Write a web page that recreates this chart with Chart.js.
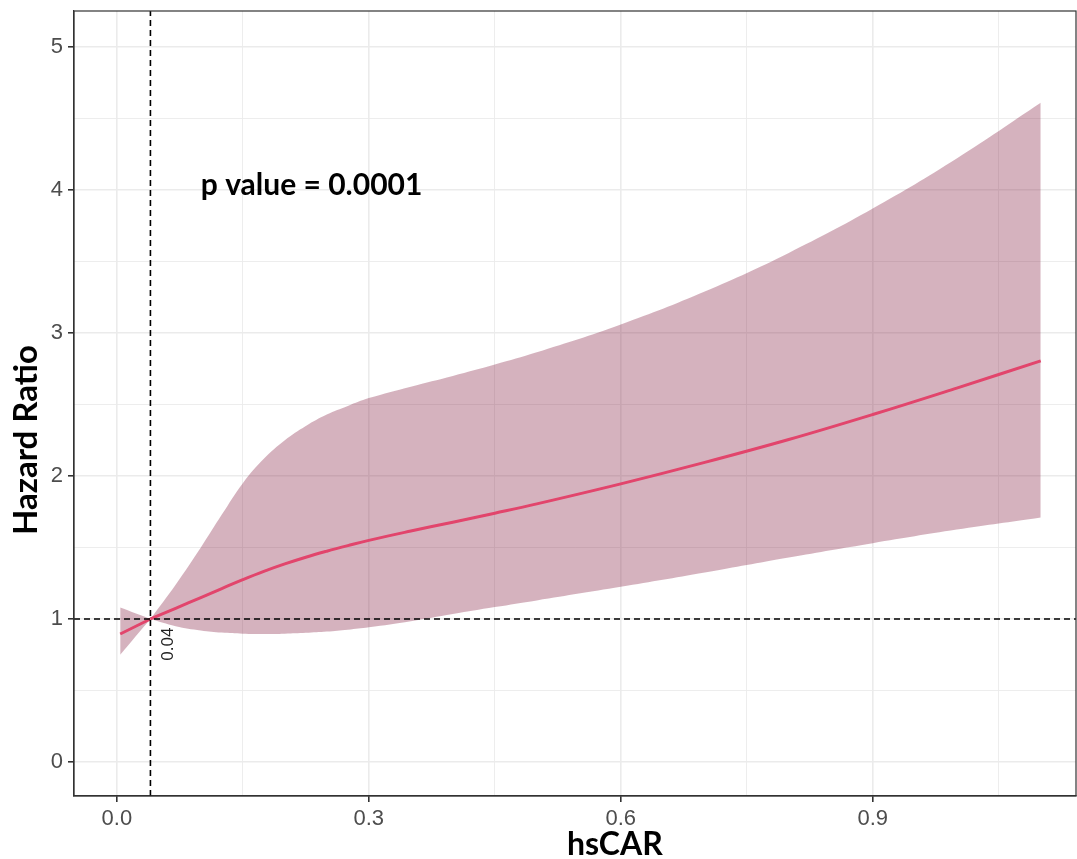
<!DOCTYPE html>
<html>
<head>
<meta charset="utf-8">
<script src="https://cdn.jsdelivr.net/npm/chart.js"></script>
<style>
  html, body { margin: 0; padding: 0; background: #fff; }
  #wrap { width: 1077px; height: 859px; position: relative; }
</style>
</head>
<body>
<div id="wrap"><canvas id="rcsChart"></canvas></div>
<script>
// hsCAR values where the curve was read (0.04 is the reference point)
var hsCAR = [0.004, 0.04, 0.07, 0.1, 0.125, 0.15, 0.175, 0.2, 0.225, 0.25, 0.275, 0.3, 0.35, 0.4, 0.45, 0.5, 0.6, 0.7, 0.8, 0.9, 1.0, 1.1];
var hazardRatio = [0.895, 1.0, 1.075, 1.15, 1.213, 1.275, 1.333, 1.385, 1.432, 1.474, 1.513, 1.55, 1.615, 1.677, 1.74, 1.805, 1.945, 2.095, 2.255, 2.43, 2.615, 2.805];
var upperCI = [1.08, 1.0, 1.24, 1.50, 1.73, 1.95, 2.12, 2.25, 2.35, 2.43, 2.49, 2.545, 2.625, 2.70, 2.78, 2.865, 3.06, 3.29, 3.56, 3.87, 4.22, 4.61];
var lowerCI = [0.75, 1.0, 0.95, 0.92, 0.905, 0.897, 0.895, 0.897, 0.903, 0.912, 0.925, 0.942, 0.985, 1.035, 1.083, 1.13, 1.225, 1.325, 1.43, 1.53, 1.625, 1.71];

var xTicks = [0, 0.15, 0.3, 0.45, 0.6, 0.75, 0.9, 1.05];
var yTicks = [0, 0.5, 1, 1.5, 2, 2.5, 3, 3.5, 4, 4.5, 5];
var xMajor = [0, 0.3, 0.6, 0.9];
var yMajor = [0, 1, 2, 3, 4, 5];

var refX = 0.04;
var refY = 1;
var pLabel = "p value = 0.0001";

var xMin = -0.051, xMax = 1.142;
var yMin = -0.238, yMax = 5.252;

var refIdx = hsCAR.indexOf(refX);

// left part (up to the reference) and right part (from the reference)
function pts(ys, from, to) {
    var out = [];
    for (var i = from; i <= to; i++) {
        out.push({x: hsCAR[i], y: ys[i]});
    }
    return out;
}
function leftPts(ys) { return pts(ys, 0, refIdx); }
function rightPts(ys) { return pts(ys, refIdx, hsCAR.length - 1); }

function isMajor(v, list) {
    for (var i = 0; i < list.length; i++) {
        if (Math.abs(v - list[i]) < 1e-6) return true;
    }
    return false;
}

var ribbonColor = "rgba(135, 35, 70, 0.35)";
var lineColor = "#e2456c";

function bandSet(label, data, fillTo, order) {
    return {
        label: label,
        data: data,
        borderWidth: 0,
        borderColor: 'rgba(0,0,0,0)',
        backgroundColor: ribbonColor,
        pointRadius: 0,
        tension: 0.4,
        fill: fillTo,
        order: order
    };
}
function hrSet(label, data) {
    return {
        label: label,
        data: data,
        borderColor: lineColor,
        borderWidth: 3,
        pointRadius: 0,
        tension: 0.4,
        fill: false,
        order: 1
    };
}
function refSet(label, data) {
    return {
        label: label,
        data: data,
        borderColor: '#000000',
        borderWidth: 1.6,
        borderDash: [6, 4],
        pointRadius: 0,
        fill: false,
        order: 0
    };
}

var textPlugin = {
    id: 'textPlugin',
    afterDraw: function(chart) {
        var ctx = chart.ctx;
        var xs = chart.scales.x, ys = chart.scales.y;
        var a = chart.chartArea;
        ctx.save();
        // panel border
        ctx.strokeStyle = "#333333";
        ctx.lineWidth = 1.2;
        ctx.strokeRect(a.left, a.top, a.right - a.left, a.bottom - a.top);

        // p value
        ctx.fillStyle = "#000000";
        ctx.font = "bold 30px Lato";
        ctx.textAlign = "left";
        ctx.textBaseline = "middle";
        ctx.fillText(pLabel, xs.getPixelForValue(0.1), ys.getPixelForValue(4.03));

        // reference label, rotated
        ctx.save();
        ctx.translate(xs.getPixelForValue(0.061), ys.getPixelForValue(0.94));
        ctx.rotate(-Math.PI / 2);
        ctx.font = "17px 'Liberation Sans'";
        ctx.fillStyle = "#222222";
        ctx.textAlign = "right";
        ctx.textBaseline = "middle";
        ctx.fillText(String(refX), 0, 0);
        ctx.restore();

        // axis titles
        ctx.font = "bold 32px Lato";
        ctx.fillStyle = "#000000";
        ctx.textAlign = "center";
        ctx.textBaseline = "middle";
        ctx.fillText("hsCAR", xs.getPixelForValue(0.593), 845);

        ctx.save();
        ctx.translate(26, 440);
        ctx.rotate(-Math.PI / 2);
        ctx.font = "bold 33px Lato";
        ctx.fillText("Hazard Ratio", 0, 0);
        ctx.restore();
        ctx.restore();
    }
};

var canvas = document.getElementById('rcsChart');
var myChart = new Chart(canvas, {
    type: 'line',
    data: {
        datasets: [
            refSet('refH', [{x: xMin, y: refY}, {x: xMax, y: refY}]),
            refSet('refV', [{x: refX, y: yMin}, {x: refX, y: yMax}]),
            hrSet('HR left', leftPts(hazardRatio)),
            hrSet('HR right', rightPts(hazardRatio)),
            bandSet('upper left', leftPts(upperCI), '+1', 2),
            bandSet('lower left', leftPts(lowerCI), false, 3),
            bandSet('upper right', rightPts(upperCI), '+1', 4),
            bandSet('lower right', rightPts(lowerCI), false, 5)
        ]
    },
    options: {
        responsive: true,
        maintainAspectRatio: false,
        animation: false,
        events: [],
        layout: { padding: { top: 11, right: 1, left: 0, bottom: 0 } },
        plugins: {
            legend: { display: false },
            tooltip: { enabled: false }
        },
        scales: {
            x: {
                type: 'linear',
                min: xMin,
                max: xMax,
                afterBuildTicks: function(scale) {
                    scale.ticks = xTicks.map(function(v) { return {value: v}; });
                },
                afterFit: function(scale) {
                    scale.height = 63;
                    scale.paddingLeft = 0;
                    scale.paddingRight = 0;
                },
                ticks: {
                    autoSkip: false,
                    maxRotation: 0,
                    padding: 4,
                    color: '#4d4d4d',
                    font: { family: 'Liberation Sans', size: 22 },
                    callback: function(v) {
                        return isMajor(v, xMajor) ? v.toFixed(1) : '';
                    }
                },
                grid: {
                    color: '#ebebeb',
                    lineWidth: function(c) { return isMajor(c.tick.value, xMajor) ? 1.6 : 0.9; },
                    tickColor: function(c) { return isMajor(c.tick.value, xMajor) ? '#333333' : 'rgba(0,0,0,0)'; },
                    tickLength: 6,
                    drawTicks: true
                },
                border: { color: '#333333', width: 1.2 }
            },
            y: {
                type: 'linear',
                min: yMin,
                max: yMax,
                afterBuildTicks: function(scale) {
                    scale.ticks = yTicks.map(function(v) { return {value: v}; });
                },
                afterFit: function(scale) {
                    scale.width = 74;
                    scale.paddingTop = 0;
                    scale.paddingBottom = 0;
                },
                ticks: {
                    autoSkip: false,
                    padding: 5,
                    color: '#4d4d4d',
                    font: { family: 'Liberation Sans', size: 22 },
                    callback: function(v) {
                        return isMajor(v, yMajor) ? String(v) : '';
                    }
                },
                grid: {
                    color: '#ebebeb',
                    lineWidth: function(c) { return isMajor(c.tick.value, yMajor) ? 1.6 : 0.9; },
                    tickColor: function(c) { return isMajor(c.tick.value, yMajor) ? '#333333' : 'rgba(0,0,0,0)'; },
                    tickLength: 6,
                    drawTicks: true
                },
                border: { color: '#333333', width: 1.2 }
            }
        }
    },
    plugins: [textPlugin]
});
</script>
</body>
</html>
